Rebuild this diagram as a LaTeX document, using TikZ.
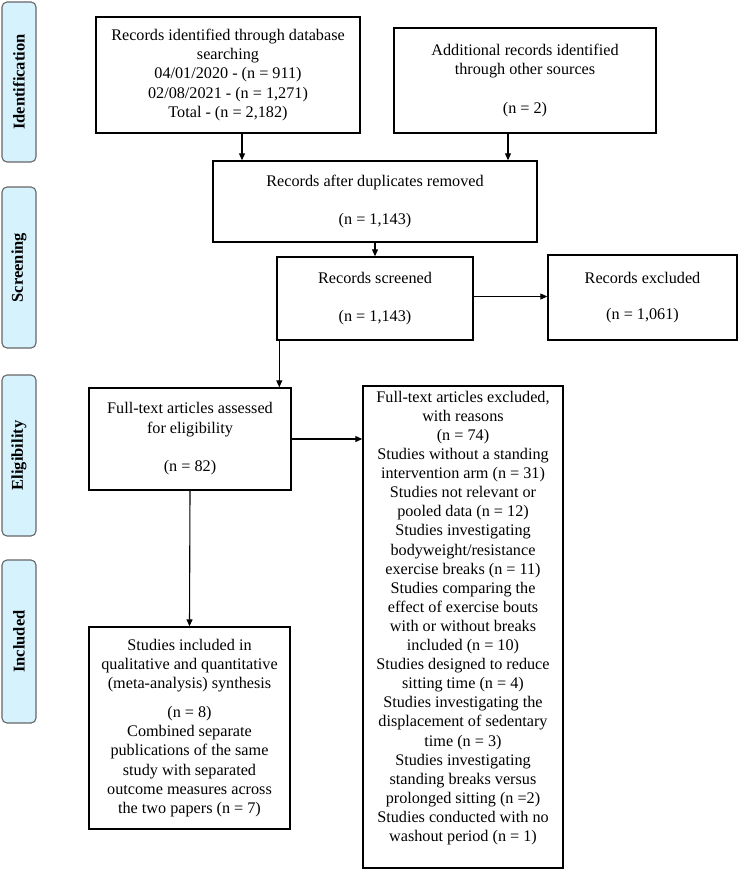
\documentclass[tikz,border=0pt]{standalone}
\usepackage{fontspec}
\setmainfont{Liberation Serif}
\usetikzlibrary{arrows.meta}
\begin{document}
\begin{tikzpicture}[x=1pt,y=-1pt,
  frame/.style={draw=black,line width=1.4pt,fill=white,inner sep=0pt},
  box/.style={frame,align=center,font=\fontsize{16.2}{19.3}\selectfont},
  txt/.style={align=center,inner sep=0pt,font=\fontsize{16.2}{19.1}\selectfont},
  phase/.style={draw=black!60,line width=1.1pt,fill=cyan!16!white,rounded corners=5pt,
    inner sep=0pt,font=\fontsize{16.5}{19}\selectfont\bfseries},
  arr/.style={line width=1.1pt,-{Triangle[length=7pt,width=6pt]}}]
\useasboundingbox (0,0) rectangle (749,878);
% phase bars
\newcommand{\phasebar}[4]{\node[phase,minimum width=34pt,minimum height=#3pt] (#1) at (19,#2) {\rotatebox{90}{#4}};}
\phasebar{pI}{82}{160}{Identification}
\phasebar{pS}{267.5}{161}{Screening}
\phasebar{pE}{455.5}{161}{Eligibility}
\phasebar{pN}{641.5}{163}{Included}
% boxes
\node[box,minimum width=264pt,minimum height=116pt] (b1) at (228,75)
  {Records identified through database\\searching\\04/01/2020 - (n = 911)\\02/08/2021 - (n = 1,271)\\Total - (n = 2,182)};
\node[box,minimum width=262pt,minimum height=105pt] (b2) at (525,80.5)
  {Additional records identified\\through other sources\\[19.3pt](n = 2)};
\node[box,minimum width=324pt,minimum height=81pt] (b3) at (375,201.5)
  {Records after duplicates removed\\[19.3pt](n = 1,143)};
\node[box,minimum width=196pt,minimum height=83pt] (b4) at (375,298.5)
  {Records screened\\[19pt](n = 1,143)};
\node[box,minimum width=189pt,minimum height=85pt] (b5) at (642.5,297.5)
  {Records excluded\\[17pt](n = 1,061)};
\node[box,minimum width=202pt,minimum height=102pt] (b6) at (190,439)
  {Full-text articles assessed\\for eligibility\\[19.3pt](n = 82)};
\node[frame,minimum width=200pt,minimum height=482pt] (b7) at (463,627) {};
\node[txt] (b7t) at ([yshift=9pt]b7.center)
  {Full-text articles excluded,\\with reasons\\(n = 74)\\Studies without a standing\\intervention arm (n = 31)\\Studies not relevant or\\pooled data (n = 12)\\Studies investigating\\bodyweight/resistance\\exercise breaks (n = 11)\\Studies comparing the\\effect of exercise bouts\\with or without breaks\\included (n = 10)\\Studies designed to reduce\\sitting time (n = 4)\\Studies investigating the\\displacement of sedentary\\time (n = 3)\\Studies investigating\\standing breaks versus\\prolonged sitting (n =2)\\Studies conducted with no\\washout period (n = 1)};
\node[box,minimum width=201pt,minimum height=202pt] (b8) at (189.5,728)
  {Studies included in\\qualitative and quantitative\\(meta-analysis) synthesis\\[9pt](n = 8)\\Combined separate\\publications of the same\\study with separated\\outcome measures across\\the two papers (n = 7)};
% connectors
\draw[arr] ([xshift=14pt]b1.south) -- ([xshift=14pt]b1.south |- b3.north);
\draw[arr] ([xshift=-17pt]b2.south) -- ([xshift=-17pt]b2.south |- b3.north);
\draw[arr] (b3.south) -- (b4.north);
\draw[arr] ([yshift=2pt]b4.east) -- ([yshift=2pt]b4.east -| b5.west);
\draw[arr] ([xshift=3pt]b4.south west) -- ([xshift=3pt]b4.south west |- b6.north);
\draw[arr] (b6.east) -- (b6.east -| b7.west);
\draw[arr] (b6.south) -- (b8.north);
\end{tikzpicture}
\end{document}
